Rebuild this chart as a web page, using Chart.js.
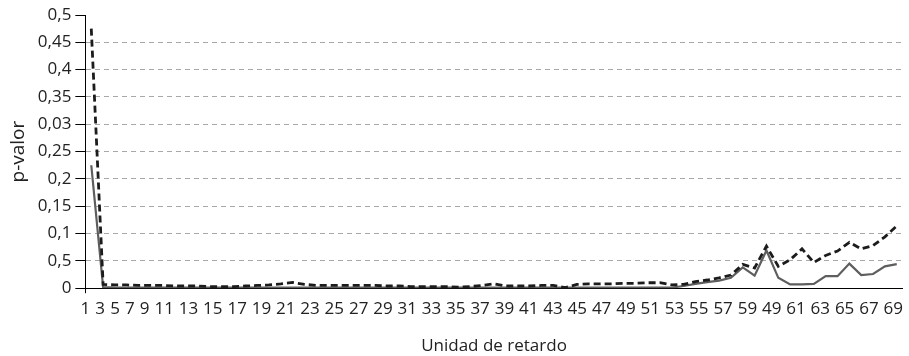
<!DOCTYPE html>
<html>
<head>
<meta charset="utf-8">
<script src="https://cdn.jsdelivr.net/npm/chart.js@4.4.1/dist/chart.umd.min.js"></script>
<style>
  html, body { margin: 0; padding: 0; background: #fff; }
  #wrap { width: 909px; height: 356px; }
</style>
</head>
<body>
<div id="wrap"><canvas id="pChart"></canvas></div>
<script>
// lag numbers (categories)
let lags = ['1', '2', '3', '4', '5', '6', '7', '8', '9', '10',
    '11', '12', '13', '14', '15', '16', '17', '18', '19', '20',
    '21', '22', '23', '24', '25', '26', '27', '28', '29', '30',
    '31', '32', '33', '34', '35', '36', '37', '38', '39', '40',
    '41', '42', '43', '44', '45', '46', '47', '48', '49', '50',
    '51', '52', '53', '54', '55', '56', '57', '58', '59', '60',
    '61', '62', '63', '64', '65', '66', '67', '68', '69'];

// labels printed under the axis (as in the original, incl. the stray "49")
let xTickLabels = ['1', '3', '5', '7', '9', '11', '13', '15', '17', '19', '21', '23',
    '25', '27', '29', '31', '33', '35', '37', '39', '41', '43', '45', '47', '49',
    '51', '53', '55', '57', '59', '49', '61', '63', '65', '67', '69'];

let yTickValues = [0, 0.05, 0.1, 0.15, 0.2, 0.25, 0.3, 0.35, 0.4, 0.45, 0.5];
let yTickLabels = ['0', '0,5', '0,1', '0,15', '0,2', '0,25', '0,03', '0,35', '0,4', '0,45', '0,5'];

// solid grey line
let solidValues = [0.225, 0.002, 0.001, 0.001, 0.001, 0.001, 0.001, 0.001, 0.001, 0.001,
    0.001, 0.001, 0.001, 0.001, 0.001, 0.001, 0.001, 0.001, 0.001, 0.001,
    0.001, 0.001, 0.001, 0.001, 0.001, 0.001, 0.001, 0.001, 0.001, 0.001,
    0.001, 0.001, 0.001, 0.001, 0.001, 0.001, 0.001, 0.001, 0.001, 0.001,
    0.001, 0.001, 0.001, 0.001, 0.001, 0.001, 0.001, 0.001, 0.001, 0.001,
    0.004, 0.008, 0.011, 0.014, 0.019, 0.038, 0.023, 0.069, 0.019, 0.007,
    0.007, 0.008, 0.022, 0.022, 0.045, 0.024, 0.026, 0.040, 0.044];

// dashed black line
let dashedValues = [0.475, 0.007, 0.006, 0.006, 0.005, 0.005, 0.005, 0.004, 0.004, 0.004,
    0.003, 0.003, 0.003, 0.004, 0.005, 0.006, 0.008, 0.0105, 0.007, 0.005,
    0.005, 0.005, 0.005, 0.005, 0.005, 0.004, 0.004, 0.003, 0.003, 0.003,
    0.003, 0.002, 0.003, 0.005, 0.008, 0.004, 0.004, 0.004, 0.005, 0.005,
    0.001, 0.007, 0.008, 0.008, 0.008, 0.009, 0.009, 0.01, 0.01, 0.006,
    0.007, 0.012, 0.015, 0.019, 0.024, 0.0435, 0.037, 0.077, 0.040, 0.052,
    0.072, 0.047, 0.060, 0.068, 0.084, 0.072, 0.078, 0.094, 0.114];

let fontFamily = '"Open Sans", "Noto Sans", sans-serif';
let tickSize = 17;
let labelGap = 5.5;
let textColor = '#222';

Chart.defaults.font.family = fontFamily;
Chart.defaults.color = textColor;

// the lag labels are set like a line of text, so space them by their widths
function labelPositions() {
    let c = document.createElement('canvas').getContext('2d');
    c.font = `${tickSize}px ${fontFamily}`;
    let widths = xTickLabels.map(t => c.measureText(t).width);
    let pos = [];
    let x = 0;
    widths.forEach((w, i) => {
        if (i > 0) x += widths[i - 1] / 2 + labelGap + w / 2;
        pos.push(x);
    });
    return { pos, end: x + widths[widths.length - 1] / 2 };
}

let lp = labelPositions();

let ctx = document.getElementById('pChart').getContext('2d');
let chart = new Chart(ctx, {
    type: 'line',
    data: {
        labels: lags,
        datasets: [
            {
                label: 'dashed',
                data: dashedValues,
                borderColor: '#1c1c1c',
                borderWidth: 2.8,
                borderDash: [7, 4],
                pointRadius: 0,
                fill: false,
                tension: 0
            },
            {
                label: 'solid',
                data: solidValues,
                borderColor: '#5e5e5e',
                borderWidth: 2.2,
                pointRadius: 0,
                fill: false,
                tension: 0
            }
        ]
    },
    options: {
        responsive: true,
        maintainAspectRatio: false,
        animation: false,
        layout: { padding: { top: 15, left: 7, right: 0, bottom: 0 } },
        plugins: {
            legend: { display: false },
            tooltip: { enabled: false }
        },
        scales: {
            x: {
                type: 'category',
                offset: true,
                ticks: { display: false },
                grid: {
                    offset: true,
                    drawOnChartArea: false,
                    tickLength: 5,
                    lineWidth: 1,
                    color: c => c.index === 0 ? '#000' : 'rgba(0,0,0,0)'
                },
                border: { color: '#000', width: 1 }
            },
            x2: {
                type: 'linear',
                position: 'bottom',
                min: 0,
                max: lp.end,
                grid: { display: false, drawTicks: false },
                border: { display: false },
                afterBuildTicks: scale => {
                    scale.ticks = lp.pos.map(v => ({ value: v }));
                },
                ticks: {
                    autoSkip: false,
                    maxRotation: 0,
                    minRotation: 0,
                    padding: 6,
                    font: { size: tickSize },
                    color: textColor,
                    callback: (v, i) => xTickLabels[i]
                },
                title: {
                    display: true,
                    text: 'Unidad de retardo',
                    font: { size: 17 },
                    color: textColor,
                    padding: { top: 10, bottom: 0 }
                }
            },
            y: {
                min: 0,
                max: 0.5,
                afterBuildTicks: scale => {
                    scale.ticks = yTickValues.map(v => ({ value: v }));
                },
                ticks: {
                    padding: 4,
                    font: { size: tickSize },
                    color: textColor,
                    callback: (v, i) => yTickLabels[i]
                },
                grid: {
                    lineWidth: 1,
                    tickLength: 10,
                    tickColor: '#000',
                    color: c => c.index === yTickValues.length - 1 ? 'rgba(0,0,0,0)' : '#a8a8a8'
                },
                border: { color: '#000', width: 1, dash: [5, 4] },
                title: {
                    display: true,
                    text: 'p-valor',
                    font: { size: 19 },
                    color: textColor,
                    padding: { top: 0, bottom: 4 }
                }
            }
        }
    }
});
</script>
</body>
</html>
